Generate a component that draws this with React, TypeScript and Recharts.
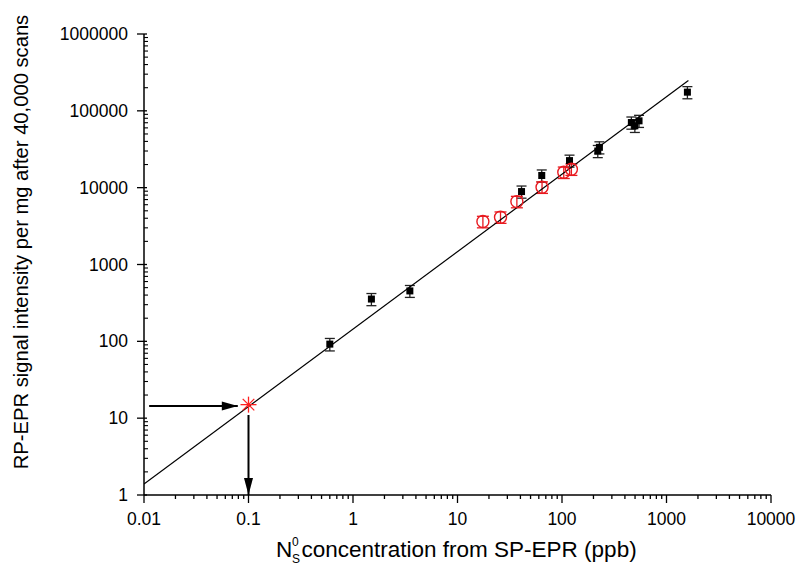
import { ScatterChart, Scatter, XAxis, YAxis, ErrorBar, Label } from 'recharts';

// fitted line, read at its two ends
const fitX = [0.01, 1620];
const fitY = [1.39, 248000];

// black squares
const sqX = [0.6, 1.5, 3.5, 41, 64, 118, 220, 228, 461, 498, 546, 1585];
const sqY = [92, 355, 453, 8900, 14400, 22500, 30000, 33500, 70400, 63800, 74100, 175000];
const sqErr = [17, 64, 80, 1600, 2600, 4000, 5400, 6000, 12700, 11500, 13300, 31500];

// red open circles
const ciX = [17.5, 25.8, 37, 64.4, 104, 123];
const ciY = [3620, 4130, 6590, 10150, 15850, 17400];
const ciErr = [620, 700, 1120, 1730, 2700, 2960];

// red star + arrows
const starX = [0.1];
const starY = [15];
const hArrowX = [0.0112, 0.079];
const hArrowY = [14.4, 14.4];
const vArrowX = [0.1, 0.1];
const vArrowY = [11, 1];

const xMajor = [0.01, 0.1, 1, 10, 100, 1000, 10000];
const yMajor = [1, 10, 100, 1000, 10000, 100000, 1000000];
const steps = [1, 2, 3, 4, 5, 6, 7, 8, 9];

const withMinor = (majors: number[]) => {
  const out: number[] = [];
  majors.forEach((m, i) => {
    if (i === majors.length - 1) out.push(m);
    else steps.forEach((s) => out.push(s === 1 ? m : s * m));
  });
  return out;
};
const xTicks = withMinor(xMajor);
const yTicks = withMinor(yMajor);

const isMajor = (v: number) => Math.abs(Math.log10(v) - Math.round(Math.log10(v))) < 1e-9;

const FONT = '"Liberation Sans", Arial, sans-serif';

const zip = (xs: number[], ys: number[], es?: number[]) =>
  xs.map((x, i) => ({ x, y: ys[i], err: es ? es[i] : 0 }));

const fitData = zip(fitX, fitY);
const sqData = zip(sqX, sqY, sqErr);
const ciData = zip(ciX, ciY, ciErr);
const starData = zip(starX, starY);
const hData = hArrowX.map((x, i) => ({ x, y: hArrowY[i], tip: i === 1 ? 'right' : '' }));
const vData = vArrowX.map((x, i) => ({ x, y: vArrowY[i], tip: i === 1 ? 'down' : '' }));

const XTick = (props: any) => {
  const { x, y, payload } = props;
  const major = isMajor(payload.value);
  return (
    <g>
      <line x1={x} x2={x} y1={y} y2={y + (major ? 8 : 4)} stroke="#000" strokeWidth={1.3} />
      {major && (
        <text x={x} y={y + 30} textAnchor="middle" fontSize={17.5} fontFamily={FONT} fill="#000">
          {String(payload.value)}
        </text>
      )}
    </g>
  );
};

const YTick = (props: any) => {
  const { x, y, payload } = props;
  const major = isMajor(payload.value);
  return (
    <g>
      {major ? (
        <line x1={x - 7} x2={x + 3} y1={y} y2={y} stroke="#000" strokeWidth={1.3} />
      ) : (
        <line x1={x} x2={x + 4} y1={y} y2={y} stroke="#000" strokeWidth={1.1} />
      )}
      {major && (
        <text x={x - 16} y={y} textAnchor="end" dominantBaseline="central" fontSize={17.5} fontFamily={FONT} fill="#000">
          {String(payload.value)}
        </text>
      )}
    </g>
  );
};

const Square = (p: any) => <rect x={p.cx - 3.5} y={p.cy - 3.5} width={7} height={7} fill="#000" />;
const Circle = (p: any) => <circle cx={p.cx} cy={p.cy} r={6} fill="none" stroke="#e8191f" strokeWidth={1.4} />;
const Star = (p: any) => {
  const r = 8;
  const d = r * 0.72;
  return (
    <g stroke="#ff2020" strokeWidth={1.3}>
      <line x1={p.cx - r} y1={p.cy} x2={p.cx + r} y2={p.cy} />
      <line x1={p.cx} y1={p.cy - r} x2={p.cx} y2={p.cy + r} />
      <line x1={p.cx - d} y1={p.cy - d} x2={p.cx + d} y2={p.cy + d} />
      <line x1={p.cx - d} y1={p.cy + d} x2={p.cx + d} y2={p.cy - d} />
    </g>
  );
};
const ArrowHead = (p: any) => {
  const { cx, cy, payload } = p;
  if (payload.tip === 'right')
    return <polygon points={`${cx},${cy} ${cx - 16},${cy - 4.5} ${cx - 16},${cy + 4.5}`} fill="#000" />;
  if (payload.tip === 'down')
    return <polygon points={`${cx},${cy} ${cx - 4.5},${cy - 17} ${cx + 4.5},${cy - 17}`} fill="#000" />;
  return <g />;
};

export default function App() {
  return (
    <div style={{ position: 'absolute', left: 0, top: 0, background: '#fff' }}>
      <ScatterChart width={800} height={565} margin={{ top: 34, right: 29, left: 0, bottom: 0 }}>
        <XAxis
          type="number"
          dataKey="x"
          scale="log"
          domain={[0.01, 10000]}
          allowDataOverflow
          ticks={xTicks}
          interval={0}
          tickSize={0}
          tickMargin={0}
          tick={<XTick />}
          axisLine={{ stroke: '#000', strokeWidth: 1.5 }}
          height={70}
        >
          <Label
            content={() => (
              <g fontFamily={FONT} fill="#000">
                <text x={276} y={557} fontSize={22.5}>N</text>
                <text x={292} y={546} fontSize={12}>0</text>
                <text x={292} y={562.5} fontSize={12}>S</text>
                <text x={301.5} y={557} fontSize={22.5}>concentration from SP-EPR (ppb)</text>
              </g>
            )}
          />
        </XAxis>
        <YAxis
          type="number"
          dataKey="y"
          scale="log"
          domain={[1, 1000000]}
          allowDataOverflow
          ticks={yTicks}
          interval={0}
          tickSize={0}
          tickMargin={0}
          tick={<YTick />}
          axisLine={{ stroke: '#000', strokeWidth: 1.5 }}
          width={144}
        >
          <Label
            content={() => (
              <text
                x={21}
                y={242}
                transform="rotate(-90 21 242)"
                textAnchor="middle"
                dominantBaseline="central"
                fontSize={20.2}
                fontFamily={FONT}
                fill="#000"
              >
                RP-EPR signal intensity per mg after 40,000 scans
              </text>
            )}
          />
        </YAxis>
        <Scatter data={fitData} line={{ stroke: '#000', strokeWidth: 1.2 }} shape={() => <g />} isAnimationActive={false} />
        <Scatter data={sqData} shape={<Square />} isAnimationActive={false}>
          <ErrorBar dataKey="err" direction="y" width={5} stroke="#222" strokeWidth={1.3} />
        </Scatter>
        <Scatter data={ciData} shape={<Circle />} isAnimationActive={false}>
          <ErrorBar dataKey="err" direction="y" width={6} stroke="#e8191f" strokeWidth={1.3} />
        </Scatter>
        <Scatter data={starData} shape={<Star />} isAnimationActive={false} />
        <Scatter data={hData} line={{ stroke: '#000', strokeWidth: 2 }} shape={<ArrowHead />} isAnimationActive={false} />
        <Scatter data={vData} line={{ stroke: '#000', strokeWidth: 2 }} shape={<ArrowHead />} isAnimationActive={false} />
      </ScatterChart>
    </div>
  );
}
